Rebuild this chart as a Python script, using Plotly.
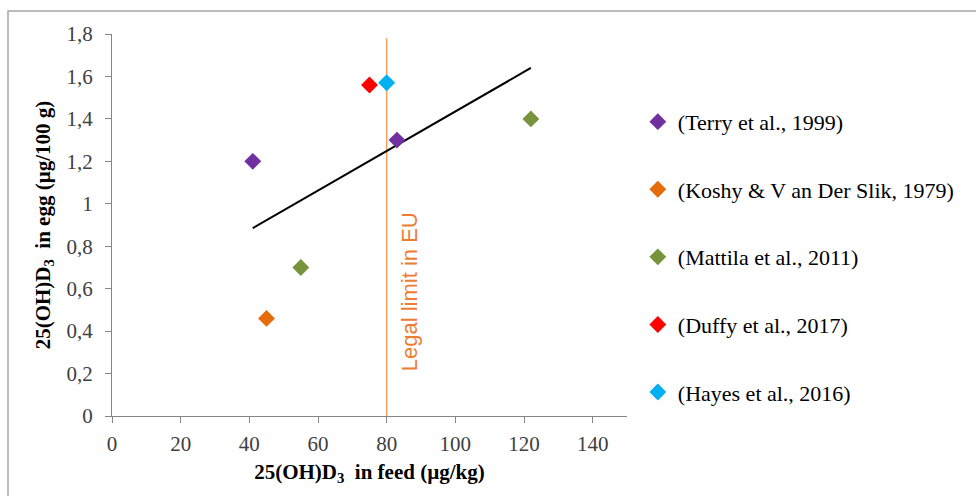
import numpy as np
import plotly.graph_objects as go

# ---- data ----
studies = ["(Terry et al., 1999)", "(Koshy & V an Der Slik, 1979)", "(Mattila et al., 2011)",
           "(Duffy et al., 2017)", "(Hayes et al., 2016)"]
feed_terry = [41, 83]
egg_terry = [1.2, 1.3]
feed_koshy = [45]
egg_koshy = [0.46]
feed_mattila = [55, 122]
egg_mattila = [0.70, 1.40]
feed_duffy = [75]
egg_duffy = [1.56]
feed_hayes = [80]
egg_hayes = [1.57]
colors = ["#7030A0", "#E46C0A", "#77933C", "#FF0000", "#00B0F0"]

legal_limit = 80
legal_limit_top = 1.78

x_ticks = [0, 20, 40, 60, 80, 100, 120, 140]
y_ticks = [0, 0.2, 0.4, 0.6, 0.8, 1, 1.2, 1.4, 1.6, 1.8]
y_tick_text = ["0", "0,2", "0,4", "0,6", "0,8", "1", "1,2", "1,4", "1,6", "1,8"]

feeds = [feed_terry, feed_koshy, feed_mattila, feed_duffy, feed_hayes]
eggs = [egg_terry, egg_koshy, egg_mattila, egg_duffy, egg_hayes]

# linear trend over all points
all_x = np.concatenate([np.array(f, float) for f in feeds])
all_y = np.concatenate([np.array(e, float) for e in eggs])
slope, intercept = np.polyfit(all_x, all_y, 1)
trend_x = np.array([all_x.min(), all_x.max()])
trend_y = slope * trend_x + intercept

fig = go.Figure()

fig.add_trace(go.Scatter(x=[legal_limit, legal_limit], y=[0, legal_limit_top], mode="lines",
                         line=dict(color="#F5A15E", width=1.5), showlegend=False, hoverinfo="skip"))
fig.add_trace(go.Scatter(x=trend_x, y=trend_y, mode="lines",
                         line=dict(color="#000000", width=2), showlegend=False, hoverinfo="skip"))

for name, fx, ey, c in zip(studies, feeds, eggs, colors):
    fig.add_trace(go.Scatter(x=fx, y=ey, mode="markers", name=name, legendgroup=name,
                             marker=dict(symbol="diamond", size=13, color=c)))

axis_font = dict(family="Liberation Serif", size=21, color="#404040")
title_font = dict(family="Liberation Serif", size=21, color="#000000")

fig.update_layout(
    width=976, height=496,
    margin=dict(l=112, r=349, t=34, b=80),
    paper_bgcolor="white", plot_bgcolor="white",
    showlegend=True,
    legend=dict(x=1.021, xanchor="left", y=0.825, yanchor="top",
                font=dict(family="Liberation Serif", size=22, color="#000000"),
                tracegroupgap=36, itemwidth=30, bgcolor="rgba(0,0,0,0)"),
    xaxis=dict(range=[0, 150], tickvals=x_ticks, ticks="outside", ticklen=6, tickcolor="#868686",
               showline=True, linecolor="#868686", linewidth=1.3, showgrid=False, zeroline=False,
               tickfont=axis_font, ticklabelstandoff=3,
               title=dict(text="<b>25(OH)D<sub>3</sub>  in feed (µg/kg)</b>", font=title_font, standoff=8)),
    yaxis=dict(range=[0, 1.8], tickvals=y_ticks, ticktext=y_tick_text, ticks="outside", ticklen=6,
               tickcolor="#868686", showline=True, linecolor="#868686", linewidth=1.3,
               showgrid=False, zeroline=False, tickfont=axis_font, ticklabelstandoff=8,
               title=dict(text="<b>25(OH)D<sub>3</sub>  in egg (µg/100 g)</b>", font=title_font, standoff=10)),
    annotations=[dict(x=legal_limit, y=0.2, xref="x", yref="y", text="Legal limit in EU",
                      textangle=-90, showarrow=False, xanchor="left", yanchor="bottom", xshift=8,
                      font=dict(family="Liberation Sans", size=22, color="#ED7D31"))],
    shapes=[dict(type="rect", xref="paper", yref="paper", x0=-104 / 515, x1=1.7, y0=-0.3, y1=1 + 23 / 382,
                 line=dict(color="#A6A6A6", width=1.5), fillcolor="rgba(0,0,0,0)", layer="below")],
)

fig.write_html("out.html")
